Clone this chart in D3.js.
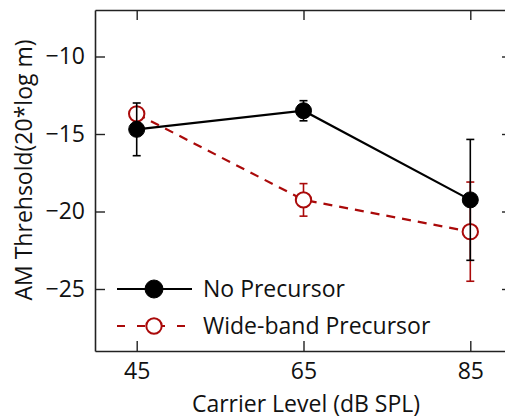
<!DOCTYPE html>
<html>
<head>
<meta charset="utf-8">
<script src="https://cdn.jsdelivr.net/npm/d3@7"></script>
<style>
  body { margin: 0; background: #fff; }
  text { font-family: "Open Sans", "Noto Sans", sans-serif; fill: #111; }
</style>
</head>
<body>
<div id="chart"></div>
<script>
// carrier levels (dB SPL)
const levels = [45, 65, 85];
const xTicks = [45, 65, 85];
const yTicks = [-10, -15, -20, -25];

// No Precursor
const noPreMean = [-14.7, -13.5, -19.25];
const noPreErr = [1.7, 0.65, 3.9];

// Wide-band Precursor
const widePreMean = [-13.7, -19.25, -21.3];
const widePreErr = [0.4, 1.05, 3.2];

const seriesNames = ["No Precursor", "Wide-band Precursor"];

const width = 505, height = 419;
const margin = {top: 10, left: 95};
const plotRight = 512, plotBottom = 351;
const red = "#aa0a0a";
const fontSize = "23px";

const svg = d3.select("#chart").append("svg")
    .attr("width", width)
    .attr("height", height);

const x = d3.scaleLinear().domain([40, 90]).range([margin.left, plotRight]);
const y = d3.scaleLinear().domain([-29, -7]).range([plotBottom, margin.top]);

// axes (ticks inside, MATLAB style box)
const xAxis = svg.append("g")
    .attr("transform", `translate(0,${plotBottom})`)
    .call(d3.axisBottom(x).tickValues(xTicks).tickSizeInner(-10).tickSizeOuter(0).tickPadding(12));
const xTop = svg.append("g")
    .attr("transform", `translate(0,${margin.top})`)
    .call(d3.axisTop(x).tickValues(xTicks).tickSizeInner(-10).tickSizeOuter(0).tickFormat(""));
const yAxis = svg.append("g")
    .attr("transform", `translate(${margin.left},0)`)
    .call(d3.axisLeft(y).tickValues(yTicks).tickSizeInner(-10).tickSizeOuter(0).tickPadding(10)
        .tickFormat(d => "\u2212" + Math.abs(d)));
const yRight = svg.append("g")
    .attr("transform", `translate(${plotRight},0)`)
    .call(d3.axisRight(y).tickValues(yTicks).tickSizeInner(-10).tickSizeOuter(0).tickFormat(""));

[xAxis, xTop, yAxis, yRight].forEach(a => {
    a.select(".domain").attr("stroke", "#222").attr("stroke-width", 1.6);
    a.selectAll(".tick line").attr("stroke", "#222").attr("stroke-width", 1.4);
    a.selectAll(".tick text").style("font-size", fontSize).attr("fill", "#111");
});

// axis titles
svg.append("text")
    .attr("x", 306).attr("y", 412)
    .attr("text-anchor", "middle")
    .style("font-size", fontSize)
    .text("Carrier Level (dB SPL)");
svg.append("text")
    .attr("transform", "translate(32,170) rotate(-90)")
    .attr("text-anchor", "middle")
    .style("font-size", fontSize)
    .text("AM Threhsold(20*log m)");

function drawSeries(means, errs, color, dash, filled) {
    const pts = levels.map((l, i) => ({x: l, m: means[i], e: errs[i]}));
    const g = svg.append("g");
    g.append("path")
        .datum(pts)
        .attr("fill", "none")
        .attr("stroke", color)
        .attr("stroke-width", 2.2)
        .attr("stroke-dasharray", dash)
        .attr("d", d3.line().x(d => x(d.x)).y(d => y(d.m)));
    const eb = g.selectAll(".eb").data(pts).join("g");
    eb.append("line")
        .attr("x1", d => x(d.x)).attr("x2", d => x(d.x))
        .attr("y1", d => y(d.m - d.e)).attr("y2", d => y(d.m + d.e))
        .attr("stroke", color).attr("stroke-width", 1.6);
    [-1, 1].forEach(s => {
        eb.append("line")
            .attr("x1", d => x(d.x) - 4).attr("x2", d => x(d.x) + 4)
            .attr("y1", d => y(d.m + s * d.e)).attr("y2", d => y(d.m + s * d.e))
            .attr("stroke", color).attr("stroke-width", 1.6);
    });
    g.selectAll("circle").data(pts).join("circle")
        .attr("cx", d => x(d.x)).attr("cy", d => y(d.m))
        .attr("r", filled ? 8 : 7.7)
        .attr("fill", filled ? color : "#fff")
        .attr("stroke", color).attr("stroke-width", filled ? 1 : 2);
}

drawSeries(widePreMean, widePreErr, red, "9,7", false);
drawSeries(noPreMean, noPreErr, "#000", null, true);

// legend
const legend = svg.append("g");
const legY = [289, 326];
const legStyle = [
    {color: "#000", dash: null, filled: true},
    {color: red, dash: "8,12", filled: false}
];
seriesNames.forEach((name, i) => {
    const s = legStyle[i];
    legend.append("line")
        .attr("x1", 117).attr("x2", 192)
        .attr("y1", legY[i]).attr("y2", legY[i])
        .attr("stroke", s.color).attr("stroke-width", 2.2)
        .attr("stroke-dasharray", s.dash);
    legend.append("circle")
        .attr("cx", 154).attr("cy", legY[i])
        .attr("r", s.filled ? 9 : 7.7)
        .attr("fill", s.filled ? s.color : "#fff")
        .attr("stroke", s.color).attr("stroke-width", s.filled ? 1 : 2);
    legend.append("text")
        .attr("x", 203).attr("y", legY[i] + 8)
        .style("font-size", fontSize)
        .text(name);
});
</script>
</body>
</html>
